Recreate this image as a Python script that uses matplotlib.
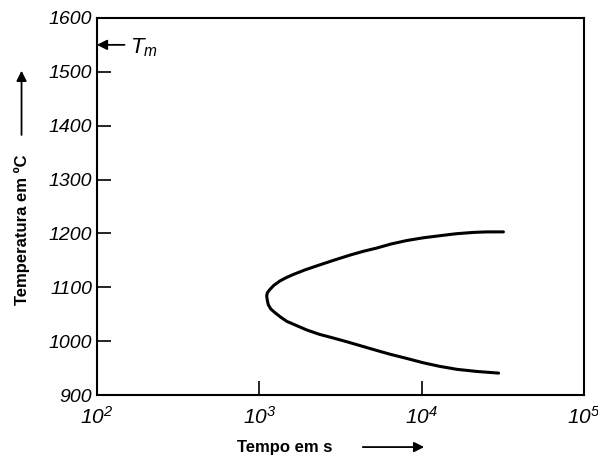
import matplotlib
matplotlib.use("Agg")
import matplotlib.pyplot as plt
from matplotlib.ticker import FixedLocator, FixedFormatter

plt.rcParams['mathtext.fontset'] = 'custom'
plt.rcParams['mathtext.rm'] = 'Liberation Sans:italic'
plt.rcParams['mathtext.it'] = 'Liberation Sans:italic'

# C-curve (upper branch -> nose -> lower branch)
time_s = [31800, 25100, 20700, 16200, 13000, 10200, 8090, 6460, 5280, 4370,
          3620, 2880, 2260, 1910, 1620, 1460, 1340, 1230, 1160, 1120,
          1110, 1120, 1135, 1175, 1250, 1350, 1476, 1700, 1960, 2340,
          2860, 3470, 4170, 5280, 6380, 8130, 10260, 12900, 16440, 21900, 29700]
temp_c = [1203, 1203, 1202, 1199.5, 1196, 1192, 1187, 1180.5, 1173, 1167,
          1160, 1150.5, 1140, 1132.5, 1124, 1118, 1112, 1104, 1096, 1090,
          1084, 1076, 1068, 1060, 1053, 1045, 1037, 1029, 1021, 1013,
          1006, 999, 992, 983, 976, 968, 960, 953.5, 948, 944, 941]

x_ticks = [1e2, 1e3, 1e4, 1e5]
x_labels = ['$10^{2}$', '$10^{3}$', '$10^{4}$', '$10^{5}$']
y_ticks = [900, 1000, 1100, 1200, 1300, 1400, 1500, 1600]
t_melt = 1550

fig = plt.figure(figsize=(5.98, 4.59), dpi=100)
ax = fig.add_axes([0.162, 0.139, 0.815, 0.822])

ax.plot(time_s, temp_c, color='black', linewidth=2.2,
        solid_capstyle='round', solid_joinstyle='round')

ax.set_xscale('log')
ax.set_xlim(1e2, 1e5)
ax.set_ylim(900, 1600)
ax.xaxis.set_major_locator(FixedLocator(x_ticks))
ax.xaxis.set_major_formatter(FixedFormatter(x_labels))
ax.xaxis.set_minor_locator(FixedLocator([]))
ax.set_yticks(y_ticks)
ax.tick_params(direction='in', length=10, width=1.2, labelsize=14,
               top=False, right=False)
ax.tick_params(axis='x', pad=8, labelsize=15)
for lab in ax.get_yticklabels():
    lab.set_fontfamily('Liberation Sans')
    lab.set_fontstyle('italic')
for sp in ax.spines.values():
    sp.set_linewidth(1.5)

# melting temperature marker
ax.annotate('', xy=(1e2, t_melt), xytext=(1.48e2, t_melt),
            arrowprops=dict(arrowstyle='-|>', color='black', lw=1.3,
                            mutation_scale=15, shrinkA=0, shrinkB=0))
ax.text(1.6e2, t_melt - 5, '$T_m$', fontsize=16, va='center', ha='left')

# axis labels with arrows
fig.text(0.036, 0.499, 'Temperatura em ºC', rotation=90, ha='center', va='center',
         fontsize=12, fontweight='bold', family='Liberation Sans')
fig.add_artist(matplotlib.patches.FancyArrowPatch(
    (0.036, 0.70), (0.036, 0.852), transform=fig.transFigure,
    arrowstyle='-|>', mutation_scale=15, color='black', lw=1.3))
fig.text(0.476, 0.026, 'Tempo em s', ha='center', va='center',
         fontsize=12, fontweight='bold', family='Liberation Sans')
fig.add_artist(matplotlib.patches.FancyArrowPatch(
    (0.602, 0.026), (0.714, 0.026), transform=fig.transFigure,
    arrowstyle='-|>', mutation_scale=15, color='black', lw=1.3))

fig.savefig('out.png', dpi=100)
